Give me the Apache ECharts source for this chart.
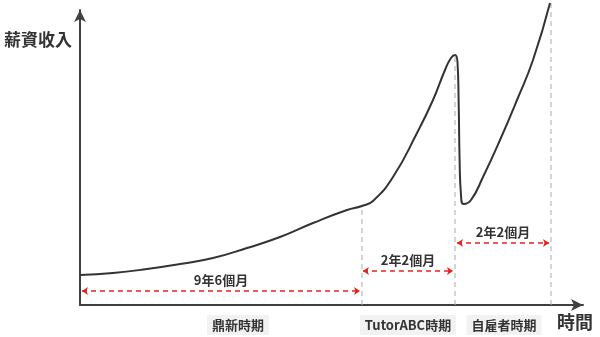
<!DOCTYPE html>
<html><head><meta charset="utf-8">
<script src="https://cdn.jsdelivr.net/npm/echarts@6/dist/echarts.min.js"></script>
<style>html,body{margin:0;padding:0;background:#fff}#c{width:600px;height:337px}</style>
</head><body><div id="c"></div>
<script>
// Income curve (time units, income units) — qualitative
const curveX = [0, 33, 67, 100, 133, 167, 200, 233, 267, 282, 293, 313, 337, 353, 365, 371, 375, 377.5, 378.7, 379.6, 381, 383.5, 391, 403, 420, 437, 453, 470];
const curveY = [30, 32, 36, 41, 47, 57, 68, 82, 95, 99, 104, 128, 172, 205, 235, 247, 250, 243, 200, 145, 110, 101, 105, 128, 165, 205, 245, 302];
// Period boundaries and curve heights there
const boundaryX = [282, 375, 471];
const boundaryTop = [99, 250, 302];
// Duration arrows
const spanStart = [2, 283, 377];
const spanEnd = [280, 373, 469];
const spanLevel = [14, 34, 62];
const spanLabels = ['9年6個月', '2年2個月', '2年2個月'];
// Period names at bottom
const periodX = [158, 328, 424];
const periodNames = ['鼎新時期', 'TutorABC時期', '自雇者時期'];
const yName = '薪資收入';
const xName = '時間';

const FONT = '"Noto Sans CJK TC", "Noto Sans CJK SC", sans-serif';
const chart = echarts.init(document.getElementById('c'));
const curve = curveX.map((x, i) => [x, curveY[i]]);
const spans = spanStart.map((s, i) => [
  {coord: [s, spanLevel[i]], label: {formatter: spanLabels[i]}},
  {coord: [spanEnd[i], spanLevel[i]]}
]);
const boundarySeries = boundaryX.map((x, i) => ({
  type: 'line', data: [[x, 0], [x, boundaryTop[i]]], symbol: 'none', clip: false, silent: true,
  lineStyle: {color: '#aaa', type: [5, 4], width: 1}, z: 2
}));

chart.setOption({
  animation: false,
  grid: {left: 80, right: 17, top: 10, bottom: 32},
  xAxis: {
    type: 'value', min: 0, max: 503,
    splitLine: {show: false},
    axisLine: {lineStyle: {color: '#404040', width: 2}, symbol: ['none', 'arrow'], symbolSize: [9, 12]},
    axisTick: {show: false},
    axisLabel: {
      customValues: periodX,
      formatter: v => periodNames[periodX.indexOf(v)] || '',
      margin: 10, fontSize: 13, fontWeight: 'bold', color: '#333', fontFamily: FONT,
      backgroundColor: '#f2f2f2', padding: [3, 5], lineHeight: 14
    }
  },
  yAxis: {
    type: 'value', min: 0, max: 295,
    splitLine: {show: false},
    axisLine: {show: true, lineStyle: {color: '#404040', width: 2}, symbol: ['none', 'arrow'], symbolSize: [9, 12]},
    axisTick: {show: false},
    axisLabel: {show: false}
  },
  graphic: [
    {type: 'text', left: 4, top: 31, style: {text: yName, font: 'bold 17px ' + FONT, fill: '#333'}},
    {type: 'text', left: 557, top: 313, style: {text: xName, font: 'bold 18px ' + FONT, fill: '#333'}}
  ],
  series: [
    {
      type: 'line', data: curve, smooth: 0.5, symbol: 'none', clip: false,
      lineStyle: {color: '#333', width: 2}, z: 5
    },
    ...boundarySeries,
    {
      type: 'line', data: [],
      markLine: {
        silent: true, symbol: ['arrow', 'arrow'], symbolSize: [6, 6], animation: false,
        lineStyle: {color: '#e8201c', type: [5, 4], width: 1.5},
        label: {show: true, position: 'middle', distance: 4, fontSize: 13, fontWeight: 'bold', color: '#333', fontFamily: FONT},
        data: spans
      }
    }
  ]
});
</script></body></html>
